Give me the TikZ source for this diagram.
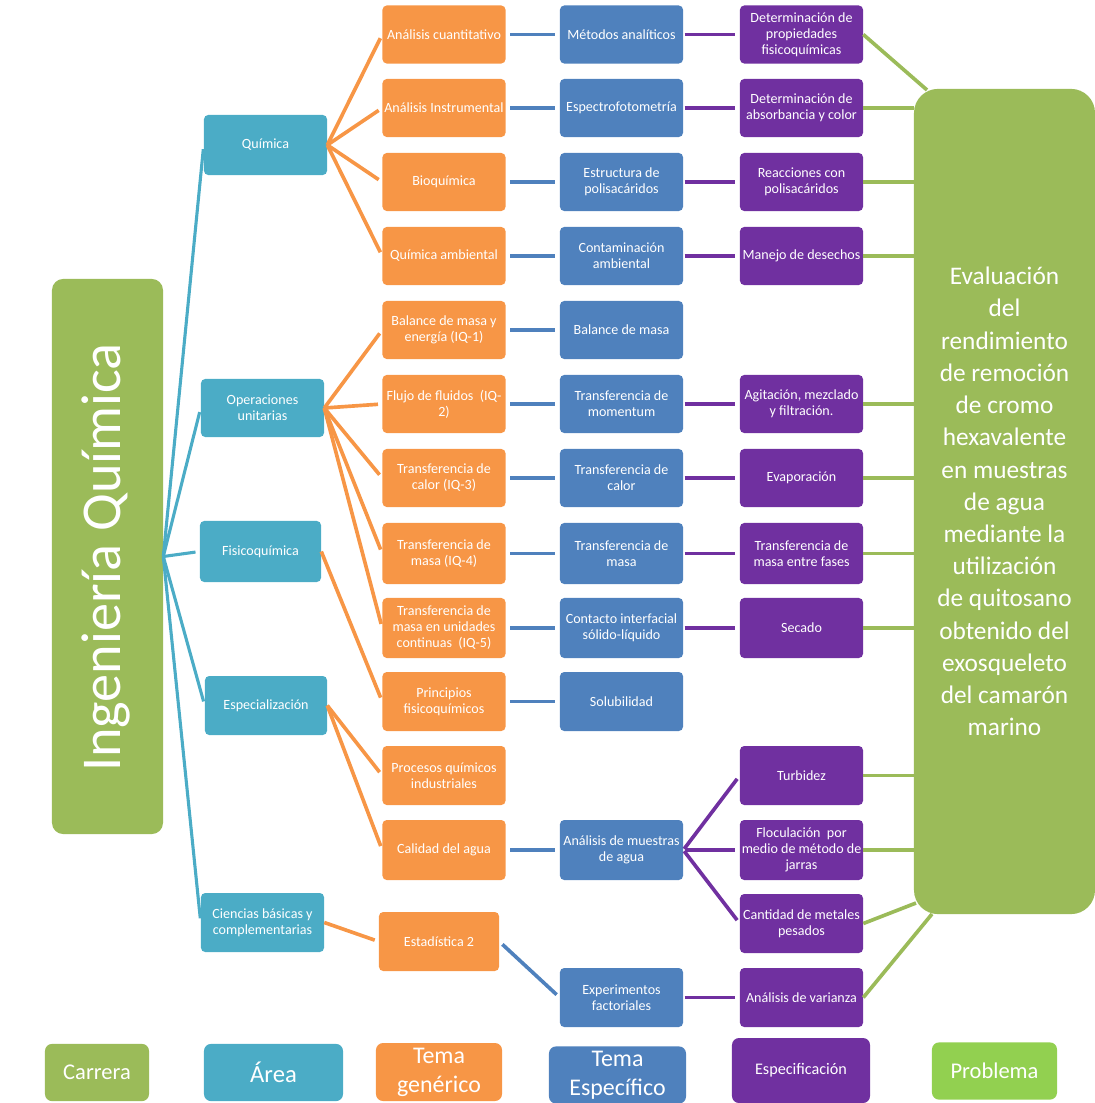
\documentclass[tikz,border=0pt]{standalone}
\usepackage{fontspec}
\setmainfont{Carlito}
\definecolor{cCar}{HTML}{9BBB59}
\definecolor{cArea}{HTML}{4BACC6}
\definecolor{cGen}{HTML}{F79646}
\definecolor{cEsp}{HTML}{4F81BD}
\definecolor{cSpec}{HTML}{7030A0}
\definecolor{cProb}{HTML}{92D050}

\begin{document}
\begin{tikzpicture}[x=0.025cm,y=-0.025cm,
  box/.style={rectangle,rounded corners=3pt,inner sep=1pt,text=white,align=center,
    font=\fontsize{10}{11.4}\selectfont,minimum width=3.075cm,minimum height=1.45cm},
  areabox/.style={box,fill=cArea},
  genbox/.style={box,fill=cGen},
  espbox/.style={box,fill=cEsp},
  specbox/.style={box,fill=cSpec},
  legbox/.style={box,minimum height=1.43cm,rounded corners=5pt},
  lnArea/.style={draw=cArea,line width=2.2pt,shorten >=3pt},
  lnGen/.style={draw=cGen,line width=2.6pt,shorten >=3pt},
  lnEsp/.style={draw=cEsp,line width=2.6pt,shorten >=3pt,shorten <=3pt},
  lnSpec/.style={draw=cSpec,line width=2.6pt,shorten >=3pt,shorten <=1pt},
  lnProb/.style={draw=cCar,line width=2.6pt}]
\useasboundingbox (0,0) rectangle (1095,1103);

\node[box,fill=cCar,rounded corners=8pt,minimum width=2.775cm,minimum height=13.875cm] (carrera) at (107.5,556.5) {};
\node[rotate=90,text=white,font=\fontsize{40}{48}\selectfont] (carreratxt) at (106,557.5) {Ingeniería Química};

\node[box,fill=cCar,rounded corners=0.6cm,minimum width=4.525cm,minimum height=20.625cm,
  font=\fontsize{18}{22.9}\selectfont] (prob) at (1004.5,501.5)
  {Evaluación\\del\\rendimiento\\de remoción\\de cromo\\hexavalente\\en muestras\\de agua\\mediante la\\utilización\\de quitosano\\obtenido del\\exosqueleto\\del camarón\\marino};

\node[areabox,minimum height=1.5cm] (quim) at (265.5,145) {Química};
\node[areabox] (opun) at (262.5,408) {Operaciones\\unitarias};
\node[areabox,minimum width=3.025cm,minimum height=1.525cm] (fisq) at (260.5,551.5) {Fisicoquímica};
\node[areabox,minimum width=3.05cm,minimum height=1.475cm] (espz) at (266,705.5) {Especialización};
\node[areabox,minimum height=1.475cm] (cbas) at (262.5,922.5) {Ciencias básicas y\\complementarias};

\node[genbox] (g1) at (444,34.5) {Análisis cuantitativo};
\node[genbox] (g2) at (444,108) {Análisis Instrumental};
\node[genbox] (g3) at (444,182) {Bioquímica};
\node[genbox] (g4) at (444,256) {Química ambiental};
\node[genbox] (g5) at (444,330) {Balance de masa y\\energía (IQ-1)};
\node[genbox] (g6) at (444,404) {Flujo de fluidos\ \ (IQ-\\2)};
\node[genbox] (g7) at (444,478) {Transferencia de\\calor (IQ-3)};
\node[genbox,minimum height=1.525cm] (g8) at (444,553.5) {Transferencia de\\masa (IQ-4)};
\node[genbox,minimum height=1.5cm] (g9) at (444,628) {Transferencia de\\masa en unidades\\continuas\ \ (IQ-5)};
\node[genbox,minimum height=1.475cm] (g10) at (444,701.5) {Principios\\fisicoquímicos};
\node[genbox,minimum height=1.475cm] (g11) at (444,775.5) {Procesos químicos\\industriales};
\node[genbox,minimum height=1.5cm] (g12) at (444,850) {Calidad del agua};
\node[genbox,minimum width=3cm,minimum height=1.475cm] (gest) at (439,941.5) {Estadística 2};

\node[espbox] (t1) at (621.5,34.5) {Métodos analíticos};
\node[espbox] (t2) at (621.5,108) {Espectrofotometría};
\node[espbox] (t3) at (621.5,182) {Estructura de\\polisacáridos};
\node[espbox] (t4) at (621.5,256) {Contaminación\\ambiental};
\node[espbox] (t5) at (621.5,330) {Balance de masa};
\node[espbox] (t6) at (621.5,404) {Transferencia de\\momentum};
\node[espbox] (t7) at (621.5,478) {Transferencia de\\calor};
\node[espbox,minimum height=1.525cm] (t8) at (621.5,553.5) {Transferencia de\\masa};
\node[espbox,minimum height=1.5cm] (t9) at (621.5,628) {Contacto interfacial\\sólido-líquido};
\node[espbox,minimum height=1.475cm] (t10) at (621.5,701.5) {Solubilidad};
\node[espbox,minimum height=1.5cm] (t12) at (621.5,850) {Análisis de muestras\\de agua};
\node[espbox,minimum height=1.475cm] (texp) at (621.5,997.5) {Experimentos\\factoriales};

\node[specbox] (s1) at (801.5,34.5) {Determinación de\\propiedades\\fisicoquímicas};
\node[specbox] (s2) at (801.5,108) {Determinación de\\absorbancia y color};
\node[specbox] (s3) at (801.5,182) {Reacciones con\\polisacáridos};
\node[specbox] (s4) at (801.5,256) {Manejo de desechos};
\node[specbox] (s6) at (801.5,404) {Agitación, mezclado\\y filtración.};
\node[specbox] (s7) at (801.5,478) {Evaporación};
\node[specbox,minimum height=1.525cm] (s8) at (801.5,553.5) {Transferencia de\\masa entre fases};
\node[specbox,minimum height=1.5cm] (s9) at (801.5,628) {Secado};
\node[specbox,minimum height=1.475cm] (s11) at (801.5,775.5) {Turbidez};
\node[specbox,minimum height=1.5cm] (s12) at (801.5,850) {Floculación\ \ por\\medio de método de\\jarras};
\node[specbox,minimum height=1.475cm] (s13) at (801.5,923.5) {Cantidad de metales\\pesados};
\node[specbox,minimum height=1.475cm] (svar) at (801.5,997.5) {Análisis de varianza};

\node[legbox,fill=cCar,minimum width=2.6cm,font=\fontsize{16}{19}\selectfont] (lcar) at (97,1072.5) {Carrera};
\node[legbox,fill=cArea,minimum width=3.475cm,font=\fontsize{17.5}{20}\selectfont] (lare) at (273.5,1072.5) {Área};
\node[legbox,fill=cGen,minimum width=3.15cm,minimum height=1.45cm,font=\fontsize{17}{20.5}\selectfont] (lgen) at (439,1072) {Tema\\genérico};
\node[legbox,fill=cEsp,minimum width=3.425cm,font=\fontsize{17}{20.5}\selectfont] (lesp) at (617.5,1075) {Tema\\Específico};
\node[legbox,fill=cSpec,minimum width=3.45cm,minimum height=1.625cm,font=\fontsize{11.5}{14}\selectfont] (lspec) at (801,1070.5) {Especificación};
\node[legbox,fill=cProb,minimum width=3.125cm,font=\fontsize{16}{19}\selectfont] (lprob) at (994.5,1071) {Problema};

\foreach \a in {quim,opun,fisq,espz,cbas}
  \draw[lnArea] (carrera.east) -- (\a.west);

\foreach \g in {g1,g2,g3,g4}
  \draw[lnGen] (quim.east) -- (\g.west);
\foreach \g in {g5,g6,g7,g8,g9}
  \draw[lnGen] (opun.east) -- (\g.west);
\draw[lnGen] (fisq.east) -- (g10.west);
\draw[lnGen] (espz.east) -- (g11.west);
\draw[lnGen] (espz.east) -- (g12.west);
\draw[lnGen] (cbas.east) -- (gest.west);

\foreach \i in {1,...,10,12}
  \draw[lnEsp] (g\i.east) -- (t\i.west);
\draw[lnEsp] (gest.east) -- (texp.west);

\foreach \i in {1,2,3,4,6,7,8,9}
  \draw[lnSpec] (t\i.east) -- (s\i.west);
\foreach \s in {s11,s12,s13}
  \draw[lnSpec] (t12.east) -- (\s.west);
\draw[lnSpec] (texp.east) -- (svar.west);

\coordinate (ptop) at (927,90);
\coordinate (pbot) at (916,903);
\coordinate (pvar) at (932,914);
\draw[lnProb] (s1.east) -- (ptop);
\foreach \s in {s2,s3,s4,s6,s7,s8,s9,s11,s12}
  \draw[lnProb] (\s.east) -- (\s.east -| prob.west);
\draw[lnProb] (s13.east) -- (pbot);
\draw[lnProb] (svar.east) -- (pvar);
\end{tikzpicture}
\end{document}
